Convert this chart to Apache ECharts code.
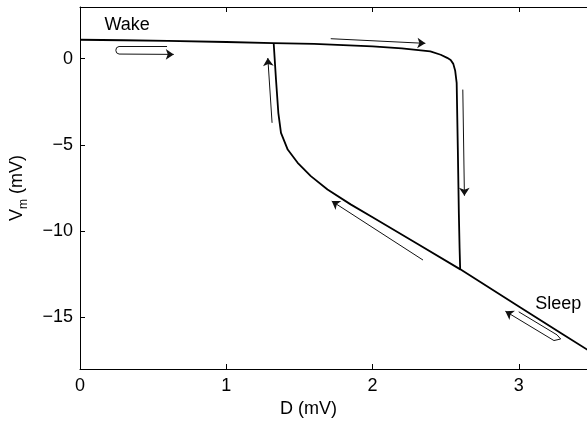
<!DOCTYPE html>
<html>
<head>
<meta charset="utf-8">
<script src="https://cdn.jsdelivr.net/npm/echarts@6/dist/echarts.min.js"></script>
<style>
  html, body { margin: 0; padding: 0; background: #fff; }
  #chart { width: 587px; height: 425px; }
</style>
</head>
<body>
<div id="chart"></div>
<script>
// wake branch (upper), drops down at the right fold
var upperD = [0, 0.3, 0.6, 1.0, 1.32, 1.6, 2.0, 2.2, 2.395, 2.466, 2.51, 2.534, 2.552, 2.565, 2.575, 2.583, 2.59, 2.595, 2.599]
var upperV = [1.1, 1.07, 1.03, 0.97, 0.91, 0.86, 0.72, 0.6, 0.42, 0.23, 0.05, -0.08, -0.3, -0.7, -1.4, -5.27, -9.0, -11.0, -12.22]
// sleep branch (lower), rises at the left fold
var lowerD = [1.324, 1.34, 1.356, 1.374, 1.42, 1.488, 1.578, 1.692, 1.85, 2.0, 2.3, 2.6, 3.0, 3.3, 3.5]
var lowerV = [0.91, -1.22, -3.15, -4.30, -5.27, -6.04, -6.81, -7.59, -8.45, -9.2, -10.7, -12.22, -14.37, -15.98, -17.05]

var xTicks = [0, 1, 2, 3]
var yTicks = [-15, -10, -5, 0]

// direction arrows (tail ... head), head drawn on the last segment
var arrowPaths = [
  [[0.595, 0.71], [0.267, 0.71], [0.25, 0.64], [0.245, 0.49], [0.25, 0.34], [0.267, 0.27], [0.641, 0.25]],
  [[1.714, 1.16], [2.361, 0.89]],
  [[2.617, -1.79], [2.628, -7.95]],
  [[1.313, -3.72], [1.284, 0.04]],
  [[2.345, -11.68], [1.721, -8.26]],
  [[2.999, -14.68], [3.261, -16.02], [3.286, -16.26], [3.24, -16.35], [2.908, -14.65]]
]

var labels = [
  {name: 'Wake', value: [0.167, 1.94]},
  {name: 'Sleep', value: [3.112, -14.23]}
]

function zip(a, b) {
  return a.map(function (v, i) { return [v, b[i]] })
}

// split every path into segments; only the final one carries the head
var bodySegs = []
var headSegs = []
arrowPaths.forEach(function (p) {
  for (var i = 0; i < p.length - 2; i++) bodySegs.push({ coords: [p[i], p[i + 1]] })
  headSegs.push({ coords: [p[p.length - 2], p[p.length - 1]] })
})

var font = 'Liberation Sans, Arial, sans-serif'
var chart = echarts.init(document.getElementById('chart'))

// the right end of the axes is cut off by the figure edge
var xMax = 3.466

var option = {
  animation: false,
  grid: { left: 77.5, right: 0, top: 7, bottom: 56 },
  xAxis: [
    {
      type: 'value', min: 0, max: xMax,
      name: 'D (mV)', nameLocation: 'middle', nameGap: 31,
      nameTextStyle: { color: '#000', fontSize: 18, fontFamily: font, padding: [0, 50, 0, 0] },
      axisLine: { onZero: false, lineStyle: { color: '#000', width: 1 } },
      axisTick: { inside: true, length: 5, customValues: xTicks, lineStyle: { color: '#000' } },
      axisLabel: { color: '#000', fontSize: 18, fontFamily: font, margin: 8, customValues: xTicks },
      splitLine: { show: false }
    },
    {
      type: 'value', min: 0, max: xMax, position: 'top',
      axisLine: { onZero: false, lineStyle: { color: '#000', width: 1 } },
      axisTick: { inside: true, length: 5, customValues: xTicks, lineStyle: { color: '#000' } },
      axisLabel: { show: false },
      splitLine: { show: false }
    }
  ],
  yAxis: {
    type: 'value', min: -18, max: 3,
    name: '{v|V}{s|m}{v| (mV)}', nameLocation: 'middle', nameGap: 50,
    nameTextStyle: {
      color: '#000', fontFamily: font,
      rich: {
        v: { fontSize: 18, fontFamily: font, color: '#000', lineHeight: 26 },
        s: { fontSize: 12, fontFamily: font, color: '#000', verticalAlign: 'bottom', lineHeight: 26 }
      }
    },
    axisLine: { show: true, onZero: false, lineStyle: { color: '#000', width: 1 } },
    axisTick: { show: true, inside: true, length: 5, customValues: yTicks, lineStyle: { color: '#000' } },
    axisLabel: {
      color: '#000', fontSize: 18, fontFamily: font, margin: 7, customValues: yTicks,
      formatter: function (v) { return v < 0 ? '\u2212' + Math.abs(v) : String(v) }
    },
    splitLine: { show: false }
  },
  series: [
    {
      type: 'line', data: zip(upperD, upperV), showSymbol: false,
      lineStyle: { color: '#000', width: 1.8 }
    },
    {
      type: 'line', data: zip(lowerD, lowerV), showSymbol: false,
      lineStyle: { color: '#000', width: 1.8 }
    },
    {
      type: 'lines', coordinateSystem: 'cartesian2d',
      symbol: ['none', 'none'],
      lineStyle: { color: '#111', width: 1, opacity: 1, curveness: 0 },
      data: bodySegs
    },
    {
      type: 'lines', coordinateSystem: 'cartesian2d',
      symbol: ['none', 'arrow'], symbolSize: [6, 8],
      lineStyle: { color: '#111', width: 1, opacity: 1, curveness: 0 },
      itemStyle: { color: '#111' },
      data: headSegs
    },
    {
      type: 'scatter', data: labels, symbolSize: 0,
      itemStyle: { opacity: 1 },
      label: {
        show: true, position: 'right', distance: 0,
        formatter: '{b}', color: '#000', fontSize: 18, fontFamily: font
      }
    }
  ]
}

chart.setOption(option)
</script>
</body>
</html>
